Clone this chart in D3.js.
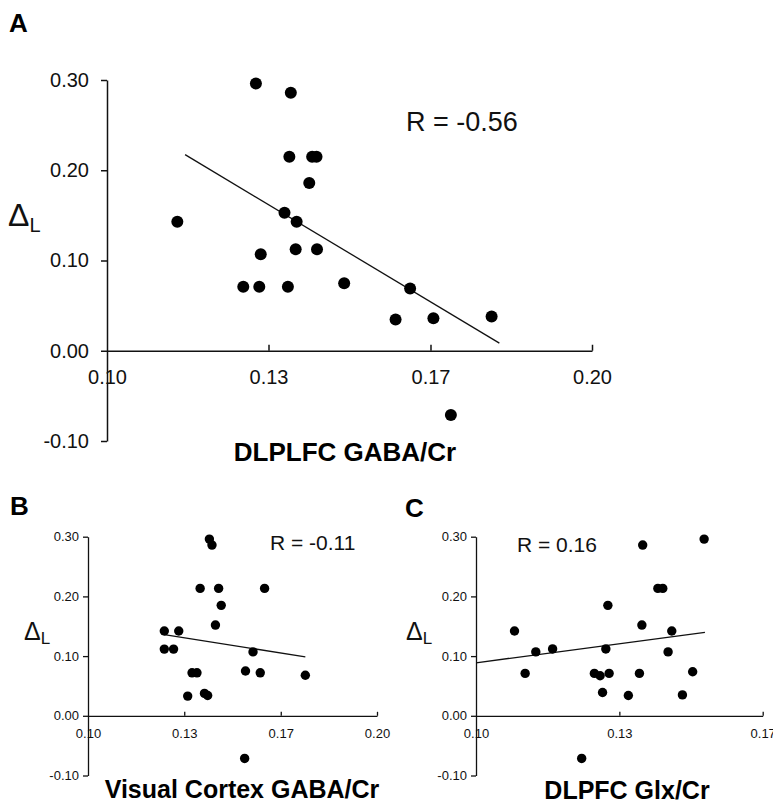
<!DOCTYPE html>
<html>
<head>
<meta charset="utf-8">
<script src="https://cdn.jsdelivr.net/npm/d3@7"></script>
<style>
  body { margin: 0; background: #fff; }
  svg { display: block; font-family: "Liberation Sans", Arial, sans-serif; }
</style>
</head>
<body>
<svg class="plot" width="773" height="806"></svg>
<script>
// ---- data ----
// panel A: DLPLFC GABA/Cr vs delta L
var aGaba  = [0.1307, 0.1379, 0.1376, 0.1423, 0.1432, 0.1417, 0.1366, 0.1145, 0.1391, 0.1317, 0.1389,
              0.1433, 0.1281, 0.1314, 0.1373, 0.1489, 0.1625, 0.1595, 0.1673, 0.1793, 0.1709];
var aDelta = [0.296, 0.286, 0.215, 0.215, 0.215, 0.186, 0.153, 0.143, 0.143, 0.107, 0.1125,
              0.1125, 0.071, 0.071, 0.071, 0.0747, 0.069, 0.0345, 0.036, 0.038, -0.0713];
var aFit = [0.1161, 0.2173, 0.1809, 0.0085];   // regression line x0, y0, x1, y1

// panel B: visual cortex GABA/Cr vs delta L
var bGaba  = [0.1420, 0.1429, 0.1388, 0.1452, 0.1611, 0.1461, 0.1441, 0.1264, 0.1314, 0.1264, 0.1296,
              0.1571, 0.1360, 0.1377, 0.1545, 0.1596, 0.1752, 0.1345, 0.1403, 0.1414, 0.1542];
var bDelta = [0.296, 0.286, 0.2134, 0.2134, 0.2134, 0.185, 0.152, 0.142, 0.142, 0.1117, 0.1117,
              0.107, 0.072, 0.072, 0.075, 0.072, 0.068, 0.033, 0.0375, 0.034, -0.0714];
var bFit = [0.1264, 0.136, 0.1752, 0.0988];

// panel C: DLPFC Glx/Cr vs delta L
var cGlx   = [0.1557, 0.1407, 0.1444, 0.1456, 0.1322, 0.1405, 0.1094, 0.1478, 0.1146, 0.1187, 0.1317,
              0.1469, 0.1120, 0.1289, 0.1303, 0.1325, 0.1399, 0.1529, 0.1309, 0.1372, 0.1504, 0.1258];
var cDelta = [0.296, 0.286, 0.2134, 0.2134, 0.185, 0.152, 0.142, 0.142, 0.107, 0.112, 0.112,
              0.107, 0.071, 0.071, 0.067, 0.071, 0.071, 0.0737, 0.039, 0.034, 0.035, -0.0714];
var cFit = [0.10, 0.0888, 0.1559, 0.1397];

// ticks
var yTicks = [0.30, 0.20, 0.10, 0.00, -0.10];
var yTickLabels = ["0.30", "0.20", "0.10", "0.00", "-0.10"];
var gabaTicks = [0.10, 0.1333, 0.1667, 0.20];
var gabaTickLabels = ["0.10", "0.13", "0.17", "0.20"];
var glxTicks = [0.10, 0.135, 0.17];
var glxTickLabels = ["0.10", "0.13", "0.17"];

var svg = d3.select(".plot");

function drawPanel(p) {
  var x = d3.scaleLinear().domain(p.xDomain).range(p.xRange),
      y = d3.scaleLinear().domain([-0.10, 0.30]).range(p.yRange);

  var g = svg.append("g");

  // y axis, ticks point out to the left
  var yAxis = g.append("g")
      .attr("transform", "translate(" + p.xRange[0] + ",0)")
      .call(d3.axisLeft(y).tickValues(yTicks).tickSizeInner(p.yTick).tickSizeOuter(0)
            .tickPadding(p.yPad).tickFormat(function(d, i) { return yTickLabels[i]; }));

  // x axis sits at 0.00, ticks point up into the plot
  var xAxis = g.append("g")
      .attr("transform", "translate(0," + y(0) + ")")
      .call(d3.axisBottom(x).tickValues(p.xTicks).tickSizeInner(-p.xTick).tickSizeOuter(0)
            .tickPadding(p.xPad).tickFormat(function(d, i) { return p.xLabels[i]; }));

  [xAxis, yAxis].forEach(function(ax) {
    ax.selectAll("path, line").attr("stroke", "#111").attr("stroke-width", p.axisW);
    ax.selectAll("text").attr("fill", "#111").style("font-size", p.tickFont + "px")
      .style("font-family", "'Liberation Sans', Arial, sans-serif");
  });
  xAxis.select(".tick line").remove(); // the y axis already covers the 0.10 tick

  // regression line
  g.append("line")
      .attr("x1", x(p.fit[0])).attr("y1", y(p.fit[1]))
      .attr("x2", x(p.fit[2])).attr("y2", y(p.fit[3]))
      .attr("stroke", "#111").attr("stroke-width", p.fitW);

  g.selectAll(".dot")
      .data(d3.zip(p.xs, p.ys))
      .enter().append("circle")
      .attr("class", "dot")
      .attr("cx", function(d) { return x(d[0]); })
      .attr("cy", function(d) { return y(d[1]); })
      .attr("r", p.r)
      .attr("fill", "#000");

  // panel letter
  g.append("text").attr("x", p.letter[0]).attr("y", p.letter[1])
      .style("font-size", "26px").style("font-weight", "bold").text(p.name);

  // delta L label
  var dl = g.append("text").attr("x", p.delta[0]).attr("y", p.delta[1]).attr("fill", "#111");
  dl.append("tspan").style("font-size", p.delta[2] + "px").text("\u0394");
  dl.append("tspan").attr("dy", p.delta[4]).style("font-size", p.delta[3] + "px").text("L");

  // correlation
  g.append("text").attr("x", p.rPos[0]).attr("y", p.rPos[1])
      .style("font-size", p.rPos[2] + "px").attr("fill", "#111").text(p.rText);

  // x title
  g.append("text").attr("x", p.title[0]).attr("y", p.title[1])
      .attr("text-anchor", "middle")
      .style("font-size", p.title[2] + "px").style("font-weight", "bold")
      .text(p.titleText);
}

drawPanel({
  name: "A", xs: aGaba, ys: aDelta, fit: aFit,
  xDomain: [0.10, 0.20], xRange: [107, 592], yRange: [441, 80],
  xTicks: gabaTicks, xLabels: gabaTickLabels,
  r: 6, axisW: 1.5, fitW: 1.3, tickFont: 20,
  yTick: 6, yPad: 12, xTick: 6, xPad: 19,
  letter: [9, 32], delta: [8, 226, 32, 20, 6], rPos: [406, 131, 27], rText: "R = -0.56",
  title: [345, 461, 26], titleText: "DLPLFC GABA/Cr"
});

drawPanel({
  name: "B", xs: bGaba, ys: bDelta, fit: bFit,
  xDomain: [0.10, 0.20], xRange: [88, 377], yRange: [775.5, 536.7],
  xTicks: gabaTicks, xLabels: gabaTickLabels,
  r: 4.7, axisW: 1.3, fitW: 1.3, tickFont: 13,
  yTick: 5, yPad: 4, xTick: 4, xPad: 13,
  letter: [10, 515], delta: [24, 640, 25, 17, 4], rPos: [270, 550, 21], rText: "R = -0.11",
  title: [242, 798, 25], titleText: "Visual Cortex GABA/Cr"
});

drawPanel({
  name: "C", xs: cGlx, ys: cDelta, fit: cFit,
  xDomain: [0.10, 0.17], xRange: [476, 762.7], yRange: [775.5, 536.7],
  xTicks: glxTicks, xLabels: glxTickLabels,
  r: 4.7, axisW: 1.3, fitW: 1.3, tickFont: 13,
  yTick: 5, yPad: 4, xTick: 4, xPad: 13,
  letter: [405, 516.5], delta: [406, 640, 25, 17, 4], rPos: [517, 552, 21], rText: "R = 0.16",
  title: [627, 799, 25], titleText: "DLPFC Glx/Cr"
});
</script>
</body>
</html>
